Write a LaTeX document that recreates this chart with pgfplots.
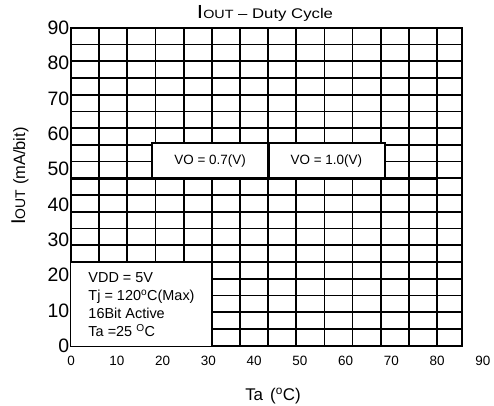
\documentclass[border=0pt]{standalone}
\usepackage{pgfplots}
\pgfplotsset{compat=1.18}
\usepackage{graphicx}
\usepackage{fontspec}
\setmainfont{Liberation Sans}
\begin{document}
\begin{tikzpicture}
\path[use as bounding box] (-71bp,-60.3bp) rectangle (423bp,345.7bp);
\begin{axis}[
  at={(0,0)}, anchor=south west,
  scale only axis, width=391.3bp, height=318bp,
  xmin=0, xmax=85.5, ymin=0, ymax=90,
  xtick={0,10,...,80}, ytick={0,10,...,90},
  major tick length=0pt, minor tick length=0pt,
  minor xtick={6.1538,12.3077,18.4615,24.6154,30.7692,36.9231,43.0769,49.2308,55.3846,61.5385,67.6923,73.8462,80},
  minor ytick={4.7368,9.4737,14.2105,18.9474,23.6842,28.4211,33.1579,37.8947,42.6316,47.3684,52.1053,56.8421,61.5789,66.3158,71.0526,75.7895,80.5263,85.2632},
  xminorgrids, yminorgrids,
  minor grid style={black, line width=1.7bp},
  axis line style={black, line width=1.7bp},
  /pgf/number format/assume math mode=true,
  xticklabel style={font=\fontsize{13.5}{15}\selectfont, yshift=-7bp},
  yticklabel style={font=\fontsize{19.5}{21}\selectfont, inner sep=1.5bp},
  clip=false,
]
\addplot[draw=none, fill=white] coordinates {(0,0) (30.77,0) (30.77,23.68) (0,23.68)} -- cycle;
\addplot[black, line width=1.7bp] coordinates {(0,23.68) (30.77,23.68) (30.77,0)};
\addplot[draw=none, fill=white] coordinates {(17.77,47.37) (68.6,47.37) (68.6,57.45) (17.77,57.45)} -- cycle;
\addplot[black, line width=1.7bp] coordinates {(17.77,47.37) (17.77,57.45) (68.6,57.45) (68.6,47.37)};
\addplot[black, line width=3bp] coordinates {(43.08,47.37) (43.08,57.45)};
\addplot[black, line width=2.8bp] coordinates {(0,47.37) (80,47.37)};
\node[anchor=west, align=left, font=\fontsize{14.5}{18}\selectfont, inner sep=0pt] at (axis cs:3.78,11.66)
  {VDD = 5V\\Tj = 120\textsuperscript{o}C(Max)\\16Bit Active\\Ta =25 \textsuperscript{O}C};
\node[font=\fontsize{13.5}{15}\selectfont] at (axis cs:30.4,52.3) {VO = 0.7(V)};
\node[font=\fontsize{13.5}{15}\selectfont] at (axis cs:55.8,52.3) {VO = 1.0(V)};
\node[anchor=north, font=\fontsize{13.5}{15}\selectfont, yshift=-7bp] at (axis cs:90,0) {90};
\end{axis}
\node[anchor=base] at (194bp,326.7bp) {\scalebox{1.2}[1]{{\fontsize{19}{20}\selectfont I}{\fontsize{12}{13}\selectfont OUT}{\fontsize{14}{15}\selectfont{} -- Duty Cycle}}};
\node[rotate=90] at (-51bp,169.7bp) {{\fontsize{20}{22}\selectfont I}{\fontsize{14}{15}\selectfont OUT}{\fontsize{16.5}{18}\selectfont{} (mA/bit)}};
\node at (202bp,-50bp) {\fontsize{17}{18}\selectfont Ta\hspace{7bp}(\textsuperscript{o}C)};
\end{tikzpicture}
\end{document}
